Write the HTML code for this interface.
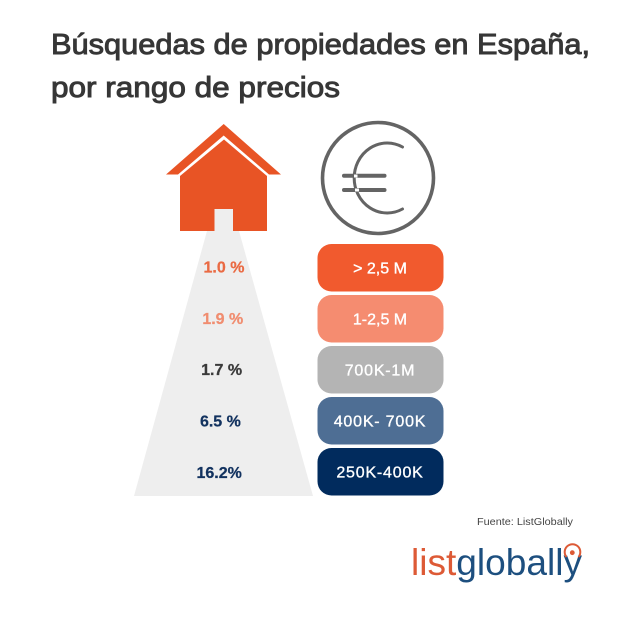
<!DOCTYPE html>
<html lang="es">
<head>
<meta charset="utf-8">
<title>Búsquedas de propiedades en España, por rango de precios</title>
<style>
  html, body { margin: 0; padding: 0; background: #fff; }
  svg { display: block; font-family: "Liberation Sans", sans-serif; }
</style>
</head>
<body>
<svg id="chart" xmlns="http://www.w3.org/2000/svg" width="640" height="621" viewBox="0 0 640 621">
  <rect x="0" y="0" width="640" height="621" fill="#ffffff"/>
  <g font-size="29" fill="#363636" stroke="#363636" stroke-width="0.95">
    <text x="51" y="54" textLength="539" lengthAdjust="spacingAndGlyphs">Búsquedas de propiedades en España,</text>
    <text x="51" y="97" textLength="289" lengthAdjust="spacingAndGlyphs">por rango de precios</text>
  </g>
  <polygon points="207,231 239,231 313,496 134,496" fill="#eeeeee"/>
  <g>
    <polygon points="223.7,124 281,174.5 269,174.5 223.7,135.5 178,174.5 166,174.5" fill="#e85425"/>
    <polygon points="224,139.5 267,176 267,231 180,231 180,176" fill="#e85425"/>
    <rect x="214.5" y="209" width="18.5" height="23" fill="#eeeeee"/>
  </g>
  <g fill="none" stroke="#646464">
    <circle cx="378" cy="178" r="55.5" stroke-width="3.6"/>
    <path d="M402.5 147 A33 35 0 1 0 402.5 209" stroke-width="3" stroke-linecap="round"/>
    <line x1="344" y1="175.7" x2="384.5" y2="175.7" stroke-width="4" stroke-linecap="round"/>
    <line x1="344" y1="190" x2="384.5" y2="190" stroke-width="4" stroke-linecap="round"/>
    <rect x="354" y="174.5" width="3.5" height="3" fill="#ffffff" stroke="none"/>
    <rect x="355" y="188.5" width="4" height="3" fill="#ffffff" stroke="none"/>
  </g>
  <g id="rows"></g>
  <text x="477" y="525" font-size="10.5" fill="#444444" textLength="96" lengthAdjust="spacingAndGlyphs">Fuente: ListGlobally</text>
  <g>
    <text x="411" y="575" font-size="37" textLength="171" lengthAdjust="spacingAndGlyphs"><tspan fill="#dd5a36">list</tspan><tspan fill="#1d4f7f">globally</tspan></text>
    <circle cx="572.3" cy="552.7" r="2.4" fill="#dd5a36"/>
    <path d="M566.5 557 A7.8 7.8 0 1 1 578.5 557" fill="none" stroke="#dd5a36" stroke-width="2"/>
  </g>
</svg>
<script>
const categories = ["> 2,5 M", "1-2,5 M", "700K-1M", "400K- 700K", "250K-400K"];
const values = [1.0, 1.9, 1.7, 6.5, 16.2];
const valueLabels = ["1.0 %", "1.9 %", "1.7 %", "6.5 %", "16.2%"];
const pillColors = ["#f15a2e", "#f58c70", "#b4b4b4", "#4e6e94", "#012b5d"];
const valueColors = ["#ea6a43", "#f08d70", "#3a3a3a", "#12325f", "#12325f"];

const NS = "http://www.w3.org/2000/svg";
const rows = document.getElementById("rows");
function pillTop(i) { return 244 + i * 51; }
function valueX(i) { return 224 - i * 1.2; }
function valueY(i) { return 272.6 + i * 51.3; }
function labelSpacing(text) { return text.indexOf("K") >= 0 ? 0.8 : 0; }

categories.forEach(function (cat, i) {
  const pill = document.createElementNS(NS, "rect");
  
  
  pill.setAttribute("x", 317.5);
  pill.setAttribute("y", pillTop(i));
  pill.setAttribute("width", 126);
  pill.setAttribute("height", 47.5);
  pill.setAttribute("rx", 14);
  pill.setAttribute("fill", pillColors[i]);
  rows.appendChild(pill);

  const label = document.createElementNS(NS, "text");
  
  
  label.setAttribute("x", 380);
  label.setAttribute("y", pillTop(i) + 29.5);
  label.setAttribute("text-anchor", "middle");
  label.setAttribute("font-size", 16);
  label.setAttribute("letter-spacing", labelSpacing(cat));
  label.setAttribute("fill", "#ffffff");
  label.setAttribute("stroke", "#ffffff");
  label.setAttribute("stroke-width", 0.35);
  label.textContent = cat;
  rows.appendChild(label);

  const value = document.createElementNS(NS, "text");
  
  
  value.setAttribute("x", valueX(i));
  value.setAttribute("y", valueY(i));
  value.setAttribute("text-anchor", "middle");
  value.setAttribute("font-size", 16);
  value.setAttribute("font-weight", "bold");
  value.setAttribute("fill", valueColors[i]);
  value.setAttribute("stroke", valueColors[i]);
  value.setAttribute("stroke-width", 0.25);
  value.textContent = valueLabels[i] || (values[i].toFixed(1) + " %");
  rows.appendChild(value);
});
</script>
</body>
</html>
